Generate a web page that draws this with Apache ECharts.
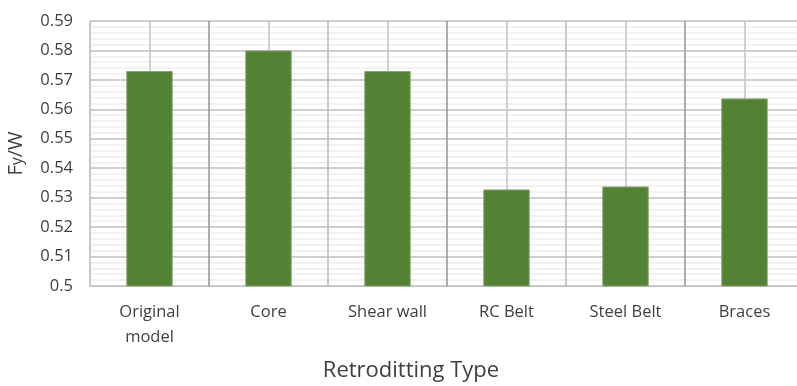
<!DOCTYPE html>
<html>
<head>
<meta charset="utf-8">
<script src="https://cdn.jsdelivr.net/npm/echarts@6/dist/echarts.min.js"></script>
<style>
  html, body { margin: 0; padding: 0; background: #fff; }
  #chart { width: 797px; height: 386px; }
</style>
</head>
<body>
<div id="chart"></div>
<script>
// Retrofitting types and their yield-force ratio Fy/W
const categories = ['Original\nmodel', 'Core', 'Shear wall', 'RC Belt', 'Steel Belt', 'Braces'];
const fyOverW = [0.573, 0.580, 0.573, 0.5328, 0.5338, 0.5637];
const yTicks = { min: 0.5, max: 0.59, step: 0.01 };

const FONT = '"Open Sans", "Liberation Sans", sans-serif';
const TEXT = '#3f3f3f';
const chart = echarts.init(document.getElementById('chart'), null, { renderer: 'canvas' });

chart.setOption({
  animation: false,
  backgroundColor: '#ffffff',
  // plot area runs slightly past the right edge of the canvas
  grid: { left: 90, top: 21, width: 714, height: 265, containLabel: false, outerBoundsMode: 'none' },
  xAxis: [
    {
      type: 'category',
      data: categories,
      boundaryGap: true,
      axisLine: { show: true, lineStyle: { color: '#bfbfbf', width: 1 } },
      axisTick: { show: false },
      axisLabel: {
        interval: 0, color: TEXT, fontFamily: FONT, fontSize: 16.5,
        lineHeight: 25, margin: 14
      },
      splitLine: { show: false },
      name: 'Retroditting Type',
      nameLocation: 'middle',
      nameGap: 74,
      nameTextStyle: { color: TEXT, fontFamily: FONT, fontSize: 22, padding: [0, 0, 0, -72] }
    },
    {
      // helper axis: gridlines at category edges (dark) and centres (light)
      type: 'value',
      min: 0, max: categories.length * 2, interval: 1,
      show: true,
      position: 'bottom',
      axisLine: { show: false },
      axisTick: { show: false },
      axisLabel: { show: false },
      splitLine: { show: true, lineStyle: { color: ['#bdbdbd', '#c6c6c6', '#9a9a9a', '#c6c6c6'], width: 1.6 } }
    }
  ],
  yAxis: {
    type: 'value',
    min: yTicks.min, max: yTicks.max, interval: yTicks.step,
    axisLine: { show: false },
    axisTick: { show: false },
    axisLabel: {
      color: TEXT, fontFamily: FONT, fontSize: 16.5, margin: 17,
      formatter: v => String(parseFloat(v.toFixed(2)))
    },
    splitLine: { show: true, lineStyle: { color: '#bfbfbf', width: 1.5 } },
    minorTick: { show: false, splitNumber: 5 },
    minorSplitLine: { show: true, lineStyle: { color: '#eeeeee', width: 1.5 } },
    name: '{f|F}{s|y}{f|/W}',
    nameLocation: 'middle',
    nameGap: 64,
    nameRotate: 90,
    nameTextStyle: {
      rich: {
        f: { color: TEXT, fontFamily: FONT, fontSize: 20 },
        s: { color: TEXT, fontFamily: FONT, fontSize: 16, padding: [3, 0, 0, 0] }
      }
    }
  },
  series: [{
    type: 'bar',
    xAxisIndex: 0,
    data: fyOverW,
    barWidth: '39%',
    itemStyle: { color: '#548235', borderColor: '#86a371', borderWidth: 1 },
    z: 3
  }]
});
</script>
</body>
</html>
